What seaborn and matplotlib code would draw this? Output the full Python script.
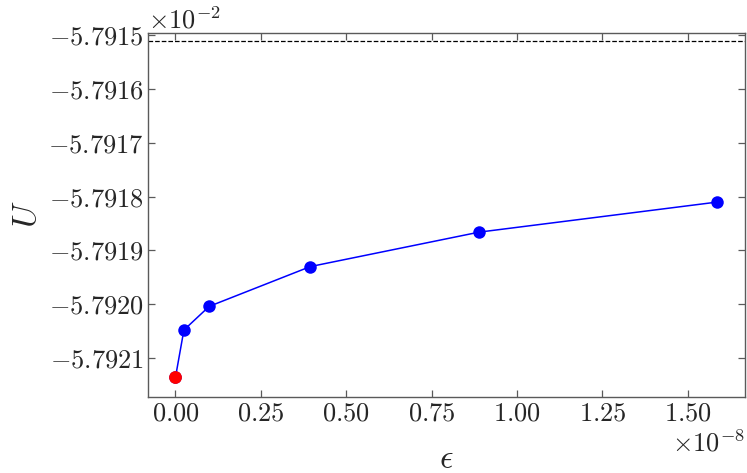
import numpy as np
import pandas as pd
import matplotlib
matplotlib.use("Agg")
import matplotlib.pyplot as plt
import seaborn as sns

# Data
eps = [0.0, 0.0247e-8, 0.0988e-8, 0.395e-8, 0.889e-8, 1.587e-8]
U = [-5.792136e-2, -5.792048e-2, -5.792004e-2, -5.791930e-2, -5.791866e-2, -5.791810e-2]
U_ref = -5.791510e-2

yticks = [-5.7921e-2, -5.7920e-2, -5.7919e-2, -5.7918e-2, -5.7917e-2, -5.7916e-2, -5.7915e-2]
xticks = [0.0, 0.25e-8, 0.5e-8, 0.75e-8, 1.0e-8, 1.25e-8, 1.5e-8]

df = pd.DataFrame({"eps": eps, "U": U})

sns.set_theme(style="ticks")
plt.rcParams["font.family"] = "serif"
plt.rcParams["font.serif"] = ["cmr10"]
plt.rcParams["mathtext.fontset"] = "cm"
plt.rcParams["axes.formatter.use_mathtext"] = True
plt.rcParams["axes.unicode_minus"] = True

fig, ax = plt.subplots(figsize=(7.47, 4.73), dpi=100)
fig.subplots_adjust(left=0.1985, right=0.997, top=0.931, bottom=0.1613)

sns.lineplot(data=df, x="eps", y="U", color="blue", marker="o", markersize=9,
             markeredgewidth=0, linewidth=1.1, ax=ax)
# exact (extrapolated) point
sns.scatterplot(data=df.iloc[:1], x="eps", y="U", color="red", s=85,
                linewidth=0, zorder=5, ax=ax)
ax.axhline(U_ref, color="black", linestyle="--", linewidth=0.9)

ax.ticklabel_format(style="sci", scilimits=(0, 0), useOffset=False)
ax.set_yticks(yticks)
ax.set_xticks(xticks)
ax.set_xlim(-0.0796e-8, 1.667e-8)
ax.set_ylim(-5.792172e-2, -5.791495e-2)

ax.tick_params(direction="in", top=True, right=True, labelsize=19,
               color="#5a5a5a", length=5, width=0.9)
for s in ax.spines.values():
    s.set_color("#5a5a5a")
    s.set_linewidth(1.0)
ax.xaxis.get_offset_text().set_fontsize(19)
ax.yaxis.get_offset_text().set_fontsize(19)

ax.set_xlabel(r"$\epsilon$", fontsize=24, labelpad=14)
ax.set_ylabel(r"$U$", fontsize=24)

plt.savefig("out.png", dpi=100)
